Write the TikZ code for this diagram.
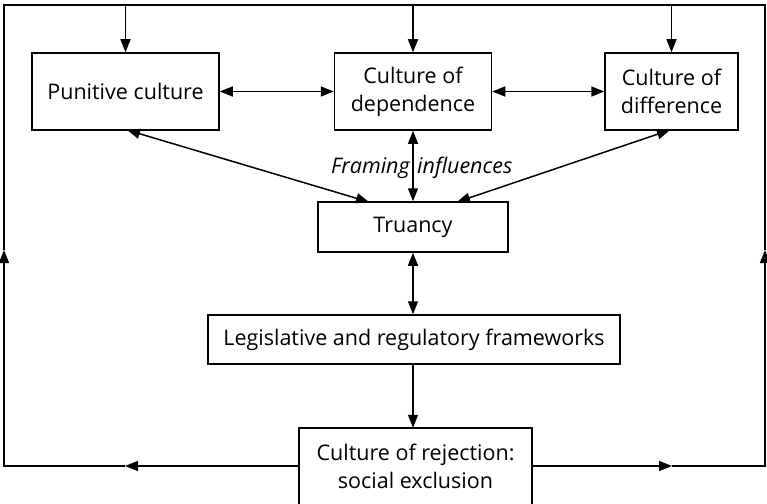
\documentclass[tikz,border=0pt]{standalone}
\usepackage{fontspec}
\setmainfont{Open Sans}
\usetikzlibrary{arrows.meta}
\begin{document}
\begin{tikzpicture}[x=1pt,y=-1pt,
  every node/.style={font=\fontsize{21.5}{28}\selectfont},
  box/.style={draw, line width=1.5pt, inner sep=0pt, align=center},
  ln/.style={line width=1.5pt},
  arr/.style={ln, -{Triangle[length=13pt,width=10pt]}},
  darr/.style={ln, {Triangle[length=13pt,width=10pt]}-{Triangle[length=13pt,width=10pt]}}]
\useasboundingbox (0,0) rectangle (767,503);
\clip (0,0) rectangle (767,503);
\node[box, minimum width=187pt, minimum height=77pt] (pun) at (125.5,91.5) {Punitive culture};
\node[box, minimum width=157pt, minimum height=77pt] (dep) at (413,91.5) {Culture of\\dependence};
\node[box, minimum width=133pt, minimum height=77pt] (dif) at (671.5,91.5) {Culture of\\difference};
\node[box, minimum width=190pt, minimum height=50pt] (tru) at (413,227) {Truancy};
\node[box, minimum width=412pt, minimum height=49pt] (leg) at (414,339.5) {Legislative and regulatory frameworks};
\node[align=center, inner sep=0pt, minimum width=233pt, minimum height=76pt] (rej) at (415.5,466) {Culture of rejection:\\social exclusion};
\draw[ln] ([yshift=-20pt]rej.south west) -- (rej.north west) -- (rej.north east) -- ([yshift=-20pt]rej.south east);
\node[anchor=east, inner sep=0pt, font=\fontsize{21.5}{28}\selectfont\itshape] (fr1) at (410,168) {Framing};
\node[anchor=west, inner sep=0pt, font=\fontsize{21.5}{28}\selectfont\itshape] (fr2) at (417,168) {influences};
% horizontal links
\draw[darr] (pun.east) -- (dep.west);
\draw[darr] (dep.east) -- (dif.west);
% to truancy
\coordinate (pb) at (127,130);
\coordinate (tl1) at (369,202);
\coordinate (db) at (670,130);
\coordinate (tr1) at (457,202);
\draw[darr] (pb) -- (tl1);
\draw[darr] (db) -- (tr1);
\draw[darr] (dep.south) -- (tru.north);
\draw[darr] (tru.south) -- (tru.south |- leg.north);
\draw[arr] (tru.south |- leg.south) -- (tru.south |- rej.north);
% feedback loop
\coordinate (bl) at (4,466);
\coordinate (br) at (765,466);
\coordinate (tl) at (4,5);
\coordinate (tr) at (765,5);
\coordinate (ml) at (125,466);
\coordinate (mr) at (672,466);
\coordinate (ul) at (4,250);
\coordinate (ur) at (765,250);
\draw[arr] (rej.west) -- (ml);
\draw[arr] (ml) -- (bl) -- (ul);
\draw[ln] (ul) -- (tl) -- (tr) -- (ur);
\draw[arr] (rej.east) -- (mr);
\draw[arr] (mr) -- (br) -- (ur);
\draw[arr] (pun.north |- tl) -- (pun.north);
\draw[arr] (dep.north |- tl) -- (dep.north);
\draw[arr] (dif.north |- tl) -- (dif.north);
\end{tikzpicture}
\end{document}
